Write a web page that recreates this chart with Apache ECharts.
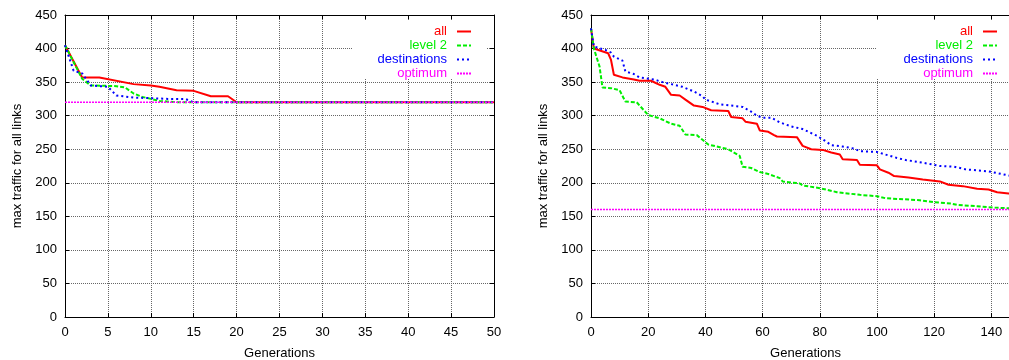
<!DOCTYPE html>
<html><head><meta charset="utf-8">
<script src="https://cdn.jsdelivr.net/npm/echarts@6/dist/echarts.min.js"></script>
<style>html,body{margin:0;padding:0;background:#fff}#c{width:1009px;height:360px}</style>
</head><body><div id="c"></div>
<script>
// ---- data ----
const seriesNames = ['all', 'level 2', 'destinations', 'optimum'];
const xTicksLeft = [0, 5, 10, 15, 20, 25, 30, 35, 40, 45, 50];
const xTicksRight = [0, 20, 40, 60, 80, 100, 120, 140];
const yTicks = [0, 50, 100, 150, 200, 250, 300, 350, 400, 450];

// left panel
const leftAllX = [0, 2, 4, 8, 10, 11, 13, 15, 17, 19, 20, 50];
const leftAllY = [405, 357, 357, 347, 345, 343, 338, 337, 329, 329, 320, 320];
const leftLevel2X = [0, 2, 3, 6, 7, 8, 9, 10, 11, 13, 50];
const leftLevel2Y = [405, 355, 345, 344, 342, 333, 328, 325, 322, 320, 320];
const leftDestX = [0, 1, 2, 3, 5, 6, 8, 10, 12, 14, 15, 50];
const leftDestY = [405, 367, 363, 345, 343, 330, 327, 326, 325, 325, 320, 320];
const leftOptX = [0, 50];
const leftOptY = [320, 320];

// right panel
const rightAllX = [0, 1, 6, 7, 8, 11, 15, 17, 21, 24, 26, 28, 31, 33, 36, 39, 42, 48, 49, 53, 54, 58, 59, 62, 64, 65, 72, 74, 77, 81, 84, 87, 88, 93, 94, 100, 101, 104, 106, 111, 116, 122, 125, 130, 135, 139, 142, 146, 150];
const rightAllY = [430, 400, 393, 383, 361, 357, 354, 352, 352, 346, 343, 331, 330, 324, 315, 313, 308, 307, 298, 296, 291, 288, 278, 276, 271, 269, 268, 255, 250, 249, 245, 242, 235, 234, 227, 226, 220, 215, 210, 208, 205, 202, 197, 195, 191, 190, 186, 184, 183];
const rightLevel2X = [0, 1, 3, 4, 7, 10, 12, 16, 17, 20, 24, 28, 31, 33, 37, 39, 41, 44, 48, 50, 52, 53, 56, 59, 62, 66, 67, 73, 74, 80, 86, 94, 100, 103, 115, 120, 126, 128, 135, 141, 146, 150];
const rightLevel2Y = [430, 400, 373, 342, 341, 338, 321, 320, 315, 301, 296, 288, 285, 272, 271, 264, 257, 254, 250, 245, 240, 224, 222, 216, 213, 207, 202, 199, 196, 192, 186, 182, 180, 177, 174, 171, 169, 167, 165, 163, 162, 162];
const rightDestX = [0, 1, 5, 7, 8, 11, 12, 15, 17, 22, 25, 29, 32, 36, 39, 40, 45, 51, 53, 56, 58, 60, 63, 66, 70, 74, 79, 82, 84, 88, 92, 94, 100, 103, 107, 110, 116, 122, 127, 131, 139, 146, 150];
const rightDestY = [430, 403, 398, 394, 388, 382, 366, 362, 357, 354, 350, 346, 343, 336, 329, 324, 317, 314, 313, 306, 300, 297, 297, 290, 284, 280, 270, 262, 256, 254, 251, 247, 246, 242, 237, 234, 230, 225, 224, 220, 217, 211, 209];
const rightOptX = [0, 150];
const rightOptY = [160, 160];

// ---- styles ----
const FONT = 'Liberation Sans, Arial, Helvetica, sans-serif';
const colors = ['#ff0000', '#00ee00', '#0000ff', '#ff00ff'];
const lineStyles = [
  {width: 2, type: 'solid'},
  {width: 2, type: [4, 2]},
  {width: 2, type: [2, 3]},
  {width: 1.5, type: [2, 1]}
];

function pairs(xs, ys) { return xs.map((x, i) => [x, ys[i]]); }

const leftData = [pairs(leftAllX, leftAllY), pairs(leftLevel2X, leftLevel2Y), pairs(leftDestX, leftDestY), pairs(leftOptX, leftOptY)];
const rightData = [pairs(rightAllX, rightAllY), pairs(rightLevel2X, rightLevel2Y), pairs(rightDestX, rightDestY), pairs(rightOptX, rightOptY)];

function mkSeries(data, gi) {
  return data.map((d, i) => ({
    type: 'line', name: seriesNames[i], data: d,
    xAxisIndex: gi, yAxisIndex: gi,
    symbol: 'none', showSymbol: false, animation: false,
    color: colors[i],
    itemStyle: {color: colors[i]},
    lineStyle: Object.assign({color: colors[i], opacity: 1}, lineStyles[i]),
    z: 2 + i
  }));
}

const splitLine = {show: true, lineStyle: {color: '#666', type: [1, 1], width: 1}};
const axisLine = {show: true, onZero: false, lineStyle: {color: '#000', width: 1}};
const tick = {show: true, inside: true, length: 4, lineStyle: {color: '#000'}};
const label = {color: '#000', fontSize: 13, fontFamily: FONT};
const nameStyle = {color: '#000', fontSize: 13, fontFamily: FONT};

function bottomX(gi, max, interval) {
  return {type: 'value', gridIndex: gi, min: 0, max: max, interval: interval, position: 'bottom',
    axisLine, axisTick: tick, splitLine, axisLabel: Object.assign({margin: 9}, label),
    name: 'Generations', nameLocation: 'middle', nameGap: 30, nameTextStyle: nameStyle};
}
function topX(gi, max, interval) {
  return {type: 'value', gridIndex: gi, min: 0, max: max, interval: interval, position: 'top',
    axisLine, axisTick: tick, splitLine: {show: false}, axisLabel: {show: false}};
}
function leftY(gi) {
  return {type: 'value', gridIndex: gi, min: 0, max: 450, interval: 50, position: 'left',
    axisLine, axisTick: tick, splitLine, axisLabel: Object.assign({margin: 8}, label),
    name: 'max traffic for all links', nameLocation: 'middle', nameGap: 41, nameTextStyle: nameStyle};
}
function rightY(gi) {
  return {type: 'value', gridIndex: gi, min: 0, max: 450, interval: 50, position: 'right',
    axisLine, axisTick: tick, splitLine: {show: false}, axisLabel: {show: false}};
}

const legendData = seriesNames.map((n, i) => ({name: n, textStyle: {color: colors[i]}}));
function mkLegend(right) {
  return {orient: 'vertical', align: 'right', right: right, top: 20,
    itemWidth: 14, itemHeight: 14, itemGap: 1, data: legendData,
    selectedMode: false,
    itemStyle: {opacity: 0},
    textStyle: {fontSize: 13, fontFamily: FONT, padding: [0, 5, 0, 0]}};
}

const option = {
  backgroundColor: '#fff',
  animation: false,
  grid: [
    {left: 65, top: 15, width: 429, height: 302, containLabel: false, outerBoundsMode: 'none'},
    {left: 591, top: 15, width: 429, height: 302, containLabel: false, outerBoundsMode: 'none'}
  ],
  xAxis: [bottomX(0, 50, 5), bottomX(1, 150, 20), topX(0, 50, 5), topX(1, 150, 20)],
  yAxis: [leftY(0), leftY(1), rightY(0)],
  legend: [mkLegend(532), mkLegend(6)],
  graphic: {elements: [
    {type: 'rect', z: 1, shape: {x: 352, y: 20, width: 134, height: 59}, style: {fill: '#fff'}},
    {type: 'rect', z: 1, shape: {x: 877, y: 20, width: 132, height: 59}, style: {fill: '#fff'}}
  ]},
  series: mkSeries(leftData, 0).concat(mkSeries(rightData, 1))
};

const chart = echarts.init(document.getElementById('c'), null, {renderer: 'canvas'});
chart.setOption(option);
</script>
</body></html>
